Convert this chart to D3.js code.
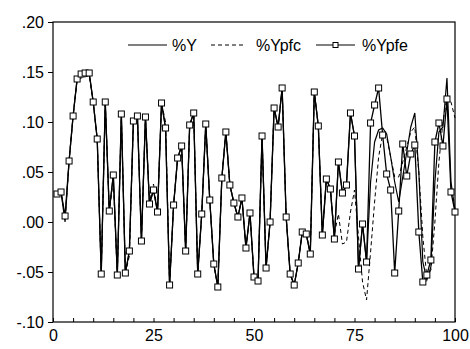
<!DOCTYPE html>
<html>
<head>
<meta charset="utf-8">
<script src="https://cdn.jsdelivr.net/npm/d3@7"></script>
<style>
  body { margin: 0; background: #fff; }
  text { font-family: "Liberation Sans", Arial, sans-serif; }
</style>
</head>
<body>
<div id="chart"></div>
<script>
// observations 1..100
var obs = d3.range(1, 101);

// %Ypfe (line with square markers)
var ypfe = [0.028, 0.030, 0.006, 0.061, 0.106, 0.143, 0.148, 0.149, 0.149, 0.120,
  0.083, -0.052, 0.120, 0.011, 0.047, -0.053, 0.108, -0.051, -0.029, 0.101,
  0.106, -0.019, 0.105, 0.018, 0.032, 0.010, 0.119, 0.094, -0.063, 0.017,
  0.064, 0.076, -0.029, 0.097, 0.109, -0.052, 0.008, 0.098, 0.022, -0.042,
  -0.065, 0.044, 0.090, 0.037, 0.019, 0.005, 0.024, -0.026, 0.009, -0.055,
  -0.059, 0.086, -0.046, 0.000, 0.114, 0.095, 0.134, 0.005, -0.052, -0.063,
  -0.041, -0.010, -0.012, -0.032, 0.130, 0.096, -0.013, 0.043, 0.033, -0.017,
  0.060, 0.029, 0.037, 0.109, 0.086, -0.047, -0.002, -0.040, 0.099, 0.117,
  0.134, 0.087, 0.048, 0.032, -0.051, 0.011, 0.078, 0.046, 0.068, 0.077,
  -0.010, -0.060, -0.053, -0.038, 0.080, 0.099, 0.076, 0.123, 0.030, 0.010];

// %Y (solid line)
var yAct = [0.028, 0.030, 0.000, 0.061, 0.106, 0.143, 0.148, 0.149, 0.149, 0.120,
  0.083, -0.052, 0.120, 0.011, 0.047, -0.053, 0.108, -0.051, -0.029, 0.101,
  0.106, -0.019, 0.105, 0.018, 0.032, 0.010, 0.119, 0.094, -0.063, 0.017,
  0.064, 0.076, -0.029, 0.097, 0.109, -0.052, 0.008, 0.098, 0.022, -0.042,
  -0.065, 0.044, 0.090, 0.037, 0.019, 0.005, 0.024, -0.026, 0.009, -0.055,
  -0.059, 0.086, -0.046, 0.000, 0.114, 0.095, 0.134, 0.005, -0.052, -0.063,
  -0.041, -0.010, -0.012, -0.032, 0.130, 0.096, -0.013, 0.043, 0.033, -0.017,
  0.060, 0.029, 0.037, 0.109, 0.086, -0.047, -0.002, -0.040, 0.040, 0.080,
  0.092, 0.094, 0.088, 0.065, 0.040, 0.020, 0.045, 0.070, 0.095, 0.109,
  0.050, -0.040, -0.058, -0.045, 0.040, 0.090, 0.095, 0.144, 0.040, 0.012];

// %Ypfc (dashed line)
var ypfc = [0.028, 0.030, 0.002, 0.061, 0.106, 0.142, 0.144, 0.145, 0.147, 0.120,
  0.083, -0.052, 0.120, 0.011, 0.042, -0.053, 0.108, -0.051, -0.034, 0.101,
  0.106, -0.019, 0.105, 0.020, 0.038, 0.010, 0.119, 0.100, -0.063, 0.017,
  0.064, 0.076, -0.029, 0.097, 0.109, -0.052, 0.008, 0.098, 0.022, -0.042,
  -0.065, 0.044, 0.090, 0.037, 0.019, 0.005, 0.024, -0.026, 0.009, -0.055,
  -0.059, 0.086, -0.046, 0.000, 0.114, 0.095, 0.134, 0.005, -0.052, -0.063,
  -0.041, -0.010, -0.012, -0.032, 0.130, 0.096, -0.013, 0.043, 0.033, -0.012,
  0.008, -0.022, -0.020, 0.010, 0.032, -0.015, -0.060, -0.078, -0.030, 0.020,
  0.065, 0.088, 0.085, 0.065, 0.045, 0.045, 0.060, 0.075, 0.090, 0.095,
  0.050, -0.015, -0.055, -0.048, 0.000, 0.060, 0.100, 0.125, 0.120, 0.104];

var xTicks = [0, 25, 50, 75, 100];
var yTicks = [-0.10, -0.05, 0.00, 0.05, 0.10, 0.15, 0.20];
var legendNames = ["%Y", "%Ypfc", "%Ypfe"];

var W = 470, H = 349;
var margin = {top: 22, right: 15, bottom: 27, left: 53};

var svg = d3.select("#chart").append("svg")
  .attr("width", W).attr("height", H);

var x = d3.scaleLinear().domain([0, 100]).range([margin.left, W - margin.right]);
var y = d3.scaleLinear().domain([-0.10, 0.20]).range([H - margin.bottom, margin.top]);

var fmt = function(d) {
  var s = d3.format(".2f")(Math.abs(d)).replace(/^0/, "");
  return (d < -1e-9 ? "-" : "") + s;
};

// frame
svg.append("rect")
  .attr("x", x(0)).attr("y", y(0.20))
  .attr("width", x(100) - x(0)).attr("height", y(-0.10) - y(0.20))
  .attr("fill", "none").attr("stroke", "#000").attr("stroke-width", 1.2);

// y axis
var yAxis = svg.append("g")
  .attr("transform", "translate(" + x(0) + ",0)")
  .call(d3.axisLeft(y).tickValues(yTicks).tickFormat(fmt).tickSize(5).tickPadding(4));
yAxis.select(".domain").remove();
yAxis.selectAll("line").attr("stroke", "#000");
yAxis.selectAll("text").attr("font-size", 16).attr("fill", "#000")
  .attr("font-family", "Liberation Sans, Arial, sans-serif");

// x axis: minor ticks every 5 drawn inside
var xAxis = svg.append("g")
  .attr("transform", "translate(0," + y(-0.10) + ")")
  .call(d3.axisBottom(x).tickValues(d3.range(0, 101, 5)).tickSize(-4)
    .tickFormat(function(d) { return xTicks.indexOf(d) >= 0 ? d : ""; }).tickPadding(8));
xAxis.select(".domain").remove();
xAxis.selectAll("line").attr("stroke", "#000");
xAxis.selectAll("text").attr("font-size", 16).attr("fill", "#000")
  .attr("font-family", "Liberation Sans, Arial, sans-serif");

var line = function(vals) {
  return d3.line()
    .x(function(d, i) { return x(obs[i]); })
    .y(function(d) { return y(d); })(vals);
};

svg.append("path").attr("d", line(ypfc))
  .attr("fill", "none").attr("stroke", "#000").attr("stroke-width", 1)
  .attr("stroke-dasharray", "4,3");

svg.append("path").attr("d", line(yAct))
  .attr("fill", "none").attr("stroke", "#000").attr("stroke-width", 1.2);

svg.append("path").attr("d", line(ypfe))
  .attr("fill", "none").attr("stroke", "#000").attr("stroke-width", 1.3);

svg.append("g").selectAll("rect")
  .data(ypfe)
  .enter()
  .append("rect")
    .attr("x", function(d, i) { return x(obs[i]) - 3; })
    .attr("y", function(d) { return y(d) - 3; })
    .attr("width", 6).attr("height", 6)
    .attr("fill", "#fff").attr("stroke", "#000").attr("stroke-width", 1);

// legend
var lg = svg.append("g").attr("transform", "translate(0,45)");
var items = [
  {name: legendNames[0], x0: 128, x1: 167, tx: 172, dash: null, marker: false},
  {name: legendNames[1], x0: 211, x1: 246, tx: 256, dash: "4,3", marker: false},
  {name: legendNames[2], x0: 316, x1: 355, tx: 362, dash: null, marker: true}
];
items.forEach(function(it) {
  lg.append("line").attr("x1", it.x0).attr("x2", it.x1).attr("y1", 0).attr("y2", 0)
    .attr("stroke", "#000").attr("stroke-width", 1)
    .attr("stroke-dasharray", it.dash);
  if (it.marker) {
    lg.append("rect").attr("x", (it.x0 + it.x1) / 2 - 2.5).attr("y", -2.5)
      .attr("width", 5).attr("height", 5)
      .attr("fill", "#fff").attr("stroke", "#000");
  }
  lg.append("text").attr("x", it.tx).attr("y", 6)
    .attr("font-size", 16).text(it.name);
});
</script>
</body>
</html>
